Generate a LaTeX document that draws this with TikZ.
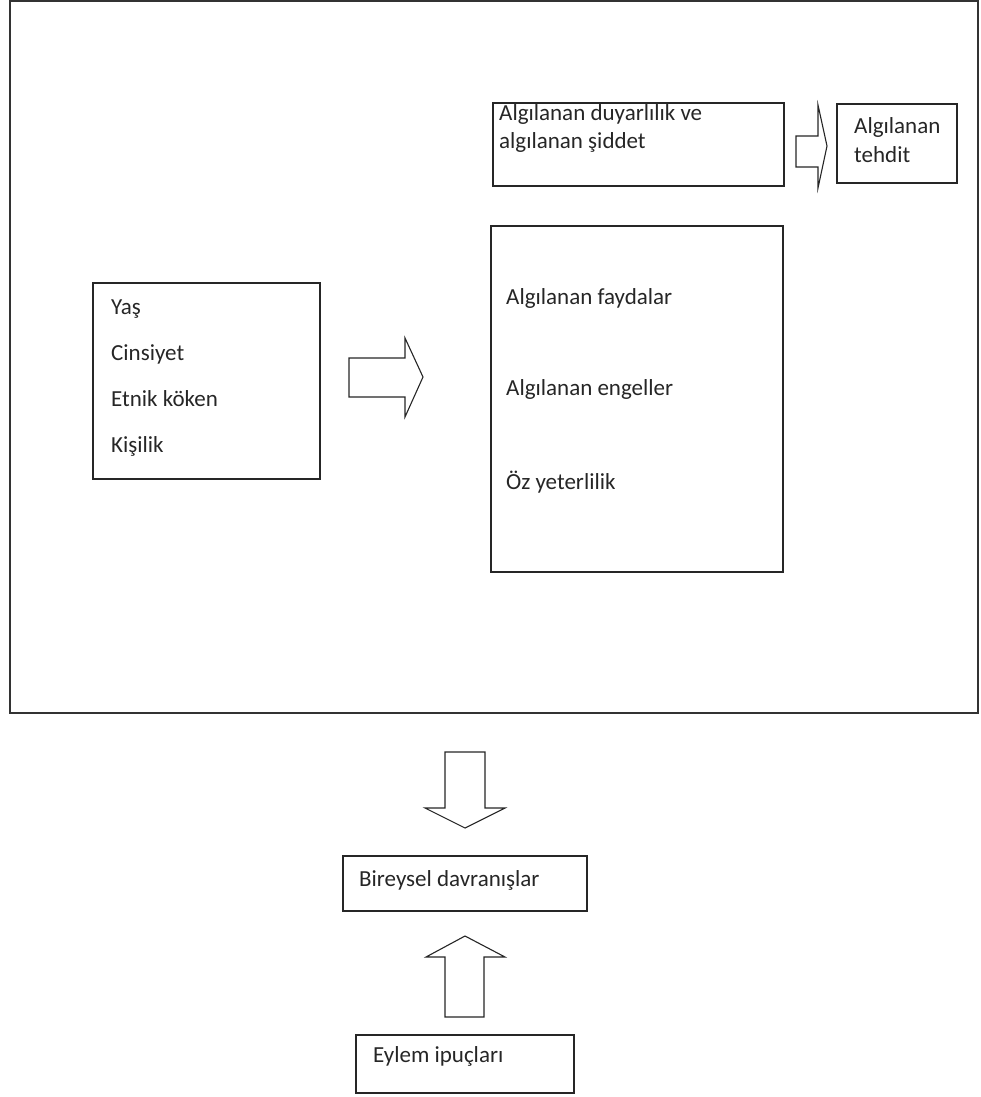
\documentclass[tikz,border=0pt]{standalone}
\usepackage{fontspec}
\setmainfont{Carlito}
\begin{document}
\begin{tikzpicture}[x=1pt,y=-1pt,
  box/.style={draw=black!85,line width=1.3pt},
  fat/.style={draw=black!85,line width=1.1pt,fill=white,line join=miter},
  txt/.style={anchor=base west,inner sep=0pt,font=\fontsize{23}{28}\selectfont,text=black!85}]
\useasboundingbox (0,0) rectangle (980,1097);
% outer frame
\draw[line width=1.6pt,draw=black!80] (10,1) rectangle (978,713);
% boxes
\draw[box] (493,103) rectangle (784,186);
\draw[box] (837,104) rectangle (957,183);
\draw[box] (93,283) rectangle (320,479);
\draw[box] (491,226) rectangle (783,572);
\draw[box] (343,856) rectangle (587,911);
\draw[box] (356,1035) rectangle (574,1093);
% texts
\node[txt] (t1) at (499,121) {Algılanan duyarlılık ve};
\node[txt] (t2) at (499,149) {algılanan şiddet};
\node[txt] (t3) at (854,134) {Algılanan};
\node[txt] (t4) at (854,162) {tehdit};
\node[txt] (y1) at (111,314) {Yaş};
\node[txt] (y2) at (111,360) {Cinsiyet};
\node[txt] (y3) at (111,406) {Etnik köken};
\node[txt] (y4) at (111,452) {Kişilik};
\node[txt] (a1) at (506,304) {Algılanan faydalar};
\node[txt] (a2) at (506,395) {Algılanan engeller};
\node[txt] (a3) at (506,489) {Öz yeterlilik};
\node[txt] (b1) at (359,886) {Bireysel davranışlar};
\node[txt] (e1) at (373,1062) {Eylem ipuçları};
% block arrows
\draw[fat] (796,136) -- (818,136) -- (818,105) -- (827,146) -- (818,188) -- (818,167) -- (796,167) -- cycle;
\draw[fat] (349,358) -- (405,358) -- (405,338) -- (423,377) -- (405,417) -- (405,397) -- (349,397) -- cycle;
\draw[fat] (445,752) -- (485,752) -- (485,808) -- (505,808) -- (465,828) -- (425,808) -- (445,808) -- cycle;
\draw[fat] (445,1017) -- (484,1017) -- (484,957) -- (505,957) -- (465,936) -- (426,957) -- (445,957) -- cycle;
\end{tikzpicture}
\end{document}
